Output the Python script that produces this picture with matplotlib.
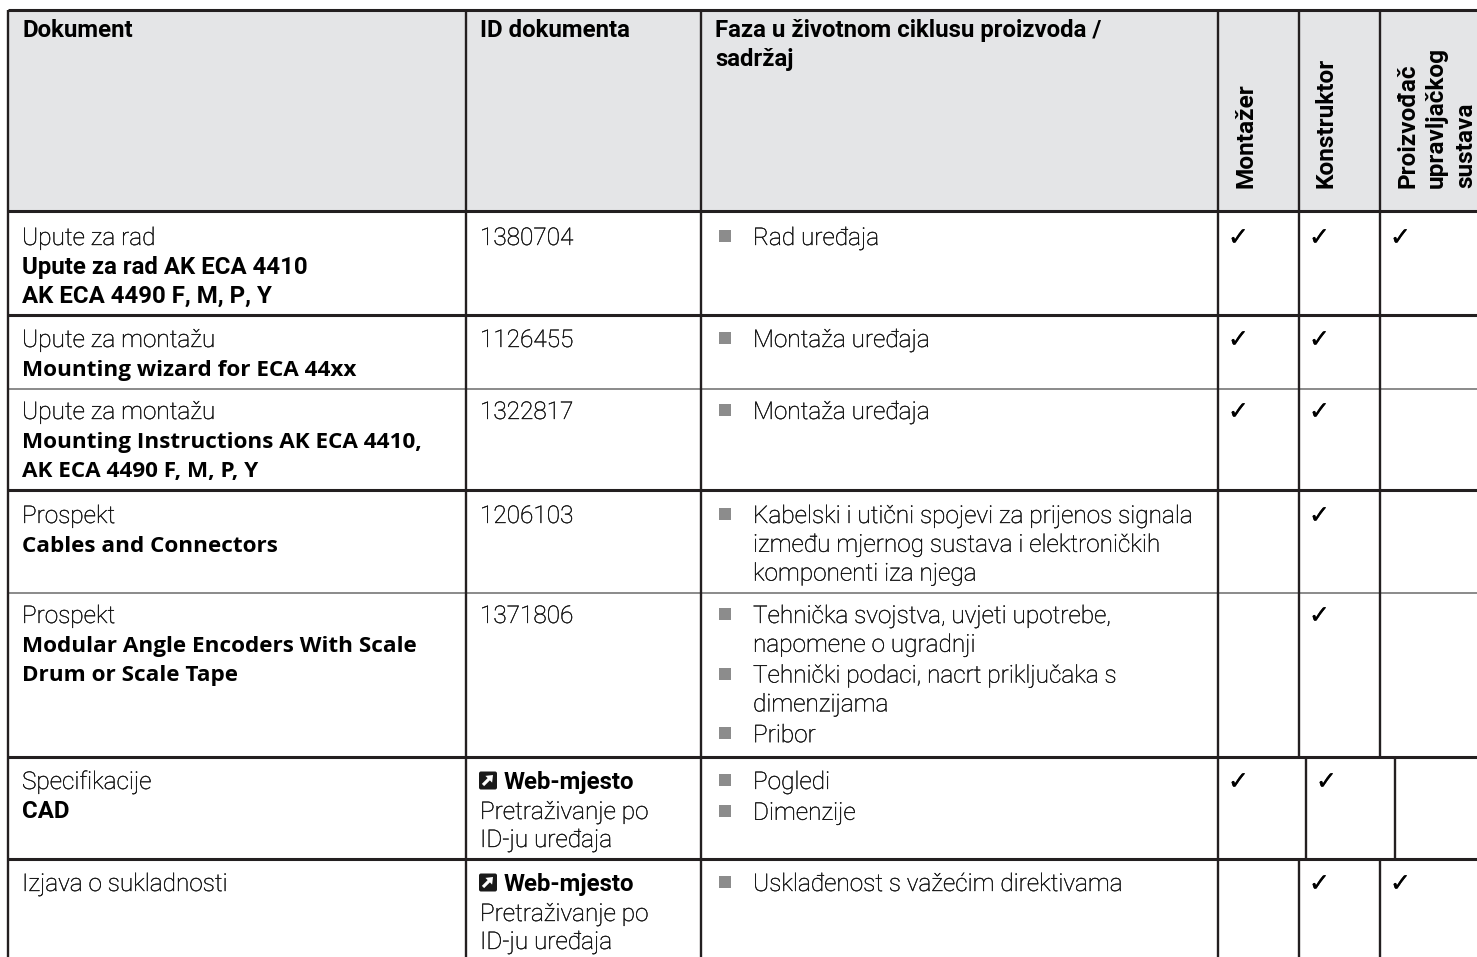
import matplotlib
matplotlib.use('Agg')
import matplotlib.pyplot as plt
import matplotlib.patheffects as pe
from matplotlib.patches import Rectangle, FancyBboxPatch, FancyArrow

W, H = 1477, 957

col_lines = [8, 466, 701, 1218, 1299, 1380]
col_lines_cad = [1218, 1306, 1395]
row_lines = [10, 211, 315, 389, 490, 593, 757, 859]
thin_rows = [389, 593]
baselines = [245, 347, 419, 523, 623, 789, 891]

headers = ['Dokument', 'ID dokumenta', 'Faza u životnom ciklusu proizvoda /\nsadržaj']
rot_headers = ['Montažer', 'Konstruktor', 'Proizvođač\nupravljačkog\nsustava']

doc_plain = ['Upute za rad', 'Upute za montažu', 'Upute za montažu', 'Prospekt', 'Prospekt',
             'Specifikacije', 'Izjava o sukladnosti']
doc_bold = [['Upute za rad AK ECA 4410', 'AK ECA 4490 F, M, P, Y'],
            ['Mounting wizard for ECA 44xx'],
            ['Mounting Instructions AK ECA 4410,', 'AK ECA 4490 F, M, P, Y'],
            ['Cables and Connectors'],
            ['Modular Angle Encoders With Scale', 'Drum or Scale Tape'],
            ['CAD'],
            []]
doc_bold_alt = [False, True, True, True, True, False, False]
doc_ids = ['1380704', '1126455', '1322817', '1206103', '1371806', None, None]
web_label = 'Web-mjesto'
web_lines = ['Pretraživanje po', 'ID-ju uređaja']
phases = [['Rad uređaja'],
          ['Montaža uređaja'],
          ['Montaža uređaja'],
          ['Kabelski i utični spojevi za prijenos signala\nizmeđu mjernog sustava i elektroničkih\nkomponenti iza njega'],
          ['Tehnička svojstva, uvjeti upotrebe,\nnapomene o ugradnji',
           'Tehnički podaci, nacrt priključaka s\ndimenzijama', 'Pribor'],
          ['Pogledi', 'Dimenzije'],
          ['Usklađenost s važećim direktivama']]
checks = [[1, 1, 1], [1, 1, 0], [1, 1, 0], [0, 1, 0], [0, 1, 0], [1, 1, 0], [0, 1, 1]]

FS_BOLD = 17.3
FS_LIGHT = 17.55
FS_ROT = 17.6
LH = 28.8
DARK = '#231f20'

fig = plt.figure(figsize=(W / 100, H / 100), dpi=100)
ax = fig.add_axes([0, 0, 1, 1])
ax.set_xlim(0, W)
ax.set_ylim(H, 0)
ax.axis('off')


def txt(x, y, s, bold=False, alt=False):
    if alt:
        ax.text(x, y, s, family='Open Sans', fontweight='bold', fontsize=16.2, color='black', va='baseline')
    elif bold:
        ax.text(x, y, s, family='Roboto', fontweight='bold', fontsize=FS_BOLD, color='black', va='baseline')
    else:
        # the light weight comes out too pale here, a hair of stroke darkens it
        ax.text(x, y, s, family='Roboto', fontweight='light', fontsize=FS_LIGHT, color='#111111', va='baseline',
                path_effects=[pe.withStroke(linewidth=0.25, foreground='#111111')])


def vline(x, y0, y1):
    ax.plot([x, x], [y0, y1], color=DARK, lw=1.7, solid_capstyle='butt')


# header band
ax.add_patch(Rectangle((col_lines[0], row_lines[0]), W - col_lines[0], row_lines[1] - row_lines[0],
                       fc='#e4e5e7', ec='none', zorder=0))

# grid
for y in row_lines:
    if y in thin_rows:
        ax.plot([col_lines[0], W], [y, y], color='#8a8a8a', lw=1.4, solid_capstyle='butt')
    else:
        ax.plot([col_lines[0], W], [y, y], color=DARK, lw=2.2, solid_capstyle='butt')
for x in col_lines[:4]:
    vline(x, row_lines[0], H)
for x in col_lines[4:]:
    vline(x, row_lines[0], row_lines[6])
    vline(x, row_lines[7], H)
for x in col_lines_cad[1:]:
    vline(x, row_lines[6], row_lines[7])

# header text
txt(22, 37, headers[0], bold=True)
txt(480, 37, headers[1], bold=True)
hl = headers[2].split('\n')
txt(715, 37, hl[0], bold=True)
txt(715, 37 + LH, hl[1], bold=True)
for x, s in zip([1252, 1333], rot_headers[:2]):
    ax.text(x, 188, s, family='Roboto', fontweight='bold', fontsize=FS_ROT, rotation=90,
            ha='left', va='baseline', rotation_mode='anchor', color='black')
for x, s in zip([1414, 1443, 1472], rot_headers[2].split('\n')):
    ax.text(x, 188, s, family='Roboto', fontweight='bold', fontsize=FS_ROT, rotation=90,
            ha='left', va='baseline', rotation_mode='anchor', color='black')

# rows
for i, y0 in enumerate(baselines):
    txt(22, y0, doc_plain[i])
    for j, s in enumerate(doc_bold[i]):
        txt(22, y0 + LH * (j + 1), s, bold=True, alt=doc_bold_alt[i])
    if doc_ids[i]:
        txt(480, y0, doc_ids[i])
    else:
        ax.add_patch(FancyBboxPatch((479, y0 - 17.5), 18, 18, boxstyle='round,pad=0,rounding_size=2',
                                    fc='#1a1a1a', ec='none'))
        ax.add_patch(FancyArrow(483, y0 - 4, 10, -10, width=3.2, head_width=9.5, head_length=6,
                                length_includes_head=True, fc='white', ec='none'))
        txt(504, y0, web_label, bold=True)
        txt(480, y0 + 30, web_lines[0])
        txt(480, y0 + 58, web_lines[1])
    # bullets
    yy = y0
    for item in phases[i]:
        ax.add_patch(Rectangle((719, yy - 15), 12, 12, fc='#8c8c8c', ec='none'))
        lines = item.split('\n')
        for k, line in enumerate(lines):
            txt(753, yy, line)
            yy += LH
        yy += 2
    # checks
    xs = [1228, 1309, 1390] if i != 5 else [1228, 1316, 1405]
    for x, c in zip(xs, checks[i]):
        if c:
            ax.text(x, y0, '\u2713', family='DejaVu Sans', fontsize=18, color='black',
                    fontweight='bold', va='baseline',
                    path_effects=[pe.withStroke(linewidth=0.2, foreground='black')])

fig.savefig('out.png', dpi=100)
